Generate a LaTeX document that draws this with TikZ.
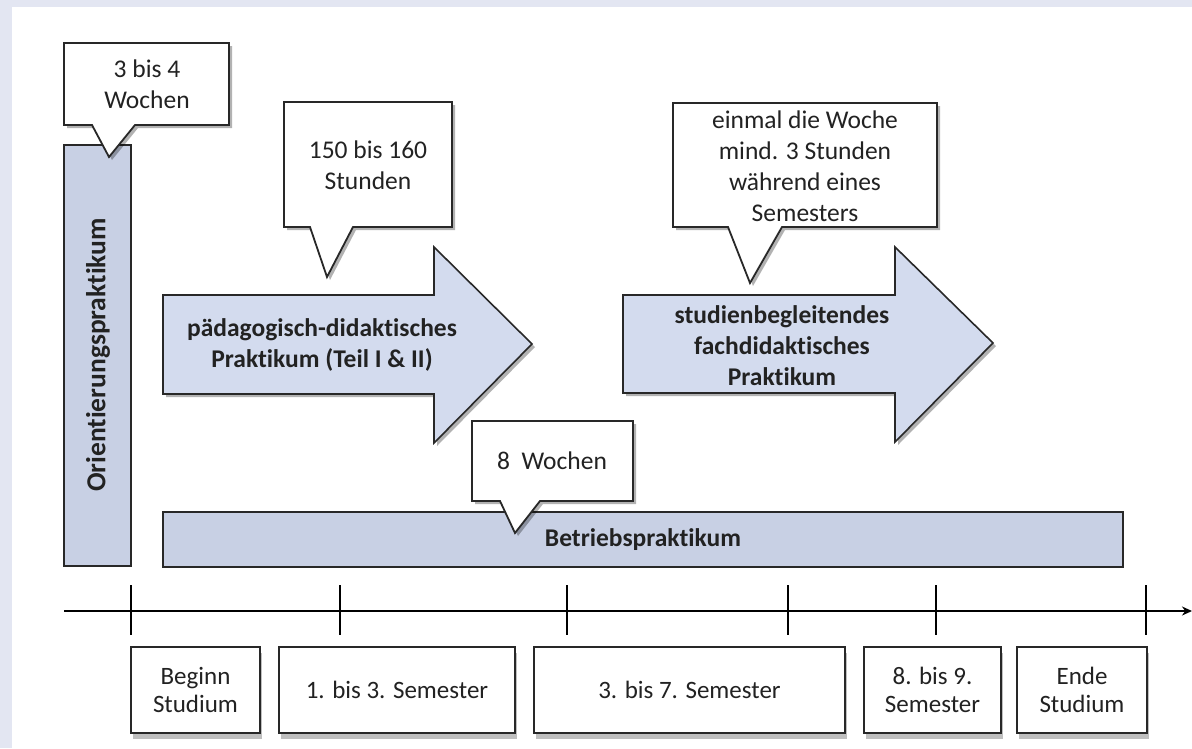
\documentclass[tikz,border=0pt]{standalone}
\usepackage{fontspec}
\setmainfont[Ligatures=NoCommon]{Carlito}
\usetikzlibrary{shadows,arrows.meta}
\definecolor{bgl}{RGB}{227,230,242}
\definecolor{barf}{RGB}{200,208,228}
\definecolor{arrf}{RGB}{211,219,238}
\definecolor{txt}{RGB}{34,34,34}
\definecolor{edge}{RGB}{40,40,40}
\begin{document}
\begin{tikzpicture}[x=1pt,y=-1pt,
  shad/.style={drop shadow={shadow xshift=3pt,shadow yshift=-3pt,opacity=0.3,fill=black}},
  callout/.style={draw=edge,line width=1.8pt,fill=white,line join=miter,shad},
  bar/.style={draw=edge,line width=1.6pt,fill=barf},
  bigarrow/.style={draw=edge,line width=1.6pt,fill=arrf,line join=miter,shad},
  ctext/.style={font=\fontsize{25.5}{31}\selectfont,align=center,text=txt,inner sep=0pt},
  btext/.style={font=\fontsize{25.5}{31}\selectfont\bfseries,align=center,text=txt,inner sep=0pt},
  period/.style={draw=edge,line width=1.6pt,fill=white,align=center,text=txt,inner sep=0pt,
    font=\fontsize{25}{28}\selectfont,minimum height=86pt,
    drop shadow={shadow xshift=2pt,shadow yshift=-6pt,opacity=0.25,fill=black}},
  tickline/.style={draw=black,line width=2.2pt},
  axisline/.style={draw=black,line width=2.2pt,-{Stealth[length=10pt,width=9pt]}}
]
\useasboundingbox (0,0) rectangle (1192,748);
\fill[bgl] (0,0) rectangle (1192,748);
\fill[white] (12,7) rectangle (1192,748);

% Orientierungspraktikum bar
\draw[bar] (64,145) rectangle (131,566);
\node[btext,rotate=90,font=\fontsize{27.5}{31}\selectfont\bfseries] (orient) at (98,355) {Orientierungspraktikum};

% callout 1
\draw[callout] (64,43) -- (229,43) -- (229,125) -- (135,125) -- (109,157) -- (92,125) -- (64,125) -- cycle;
\node[ctext] (c1) at (147,84) {3 bis 4\\Wochen};

% arrow 1
\draw[bigarrow] (163,295) -- (434,295) -- (434,247) -- (532,344) -- (434,443) -- (434,394) -- (163,394) -- cycle;
\node[btext] (a1) at (322,345) {pädagogisch-didaktisches\\Praktikum (Teil I \& II)};

% callout 2
\draw[callout] (284,102) -- (452,102) -- (452,227) -- (353,227) -- (327,277) -- (310,227) -- (284,227) -- cycle;
\node[ctext] (c2) at (368,165) {150 bis 160\\Stunden};

% arrow 2
\draw[bigarrow] (623,295) -- (895,295) -- (895,247) -- (993,343) -- (895,442) -- (895,393) -- (623,393) -- cycle;
\node[btext] (a2) at (782,346) {studienbegleitendes\\fachdidaktisches\\Praktikum};

% callout 3
\draw[callout] (673,103) -- (937,103) -- (937,227) -- (782,227) -- (750,283) -- (728,227) -- (673,227) -- cycle;
\node[ctext] (c3) at (805,166) {einmal die Woche\\mind. 3 Stunden\\während eines\\Semesters};

% Betriebspraktikum bar
\draw[bar] (163,512) rectangle (1123,567);
\node[btext] (betr) at (643,540) {Betriebspraktikum};

% callout 4
\draw[callout] (472,421) -- (633,421) -- (633,501) -- (540,501) -- (515,533) -- (500,501) -- (472,501) -- cycle;
\node[ctext] (c4) at (552,461) {8~~Wochen};

% time axis
\coordinate (axstart) at (64,611);
\coordinate (axend) at (1192,611);
\draw[axisline] (axstart) -- (axend);
\foreach \x in {131,340,567,788,936,1146}
  \draw[tickline] (\x,585) -- (\x,635);

% period boxes
\node[period,minimum width=129pt] (p1) at (195.5,690) {Beginn\\Studium};
\node[period,minimum width=236pt] (p2) at (397,690) {1. bis 3. Semester};
\node[period,minimum width=311pt] (p3) at (689.5,690) {3. bis 7. Semester};
\node[period,minimum width=137pt] (p4) at (932.5,690) {8. bis 9.\\Semester};
\node[period,minimum width=130pt] (p5) at (1082,690) {Ende\\Studium};
\end{tikzpicture}
\end{document}
